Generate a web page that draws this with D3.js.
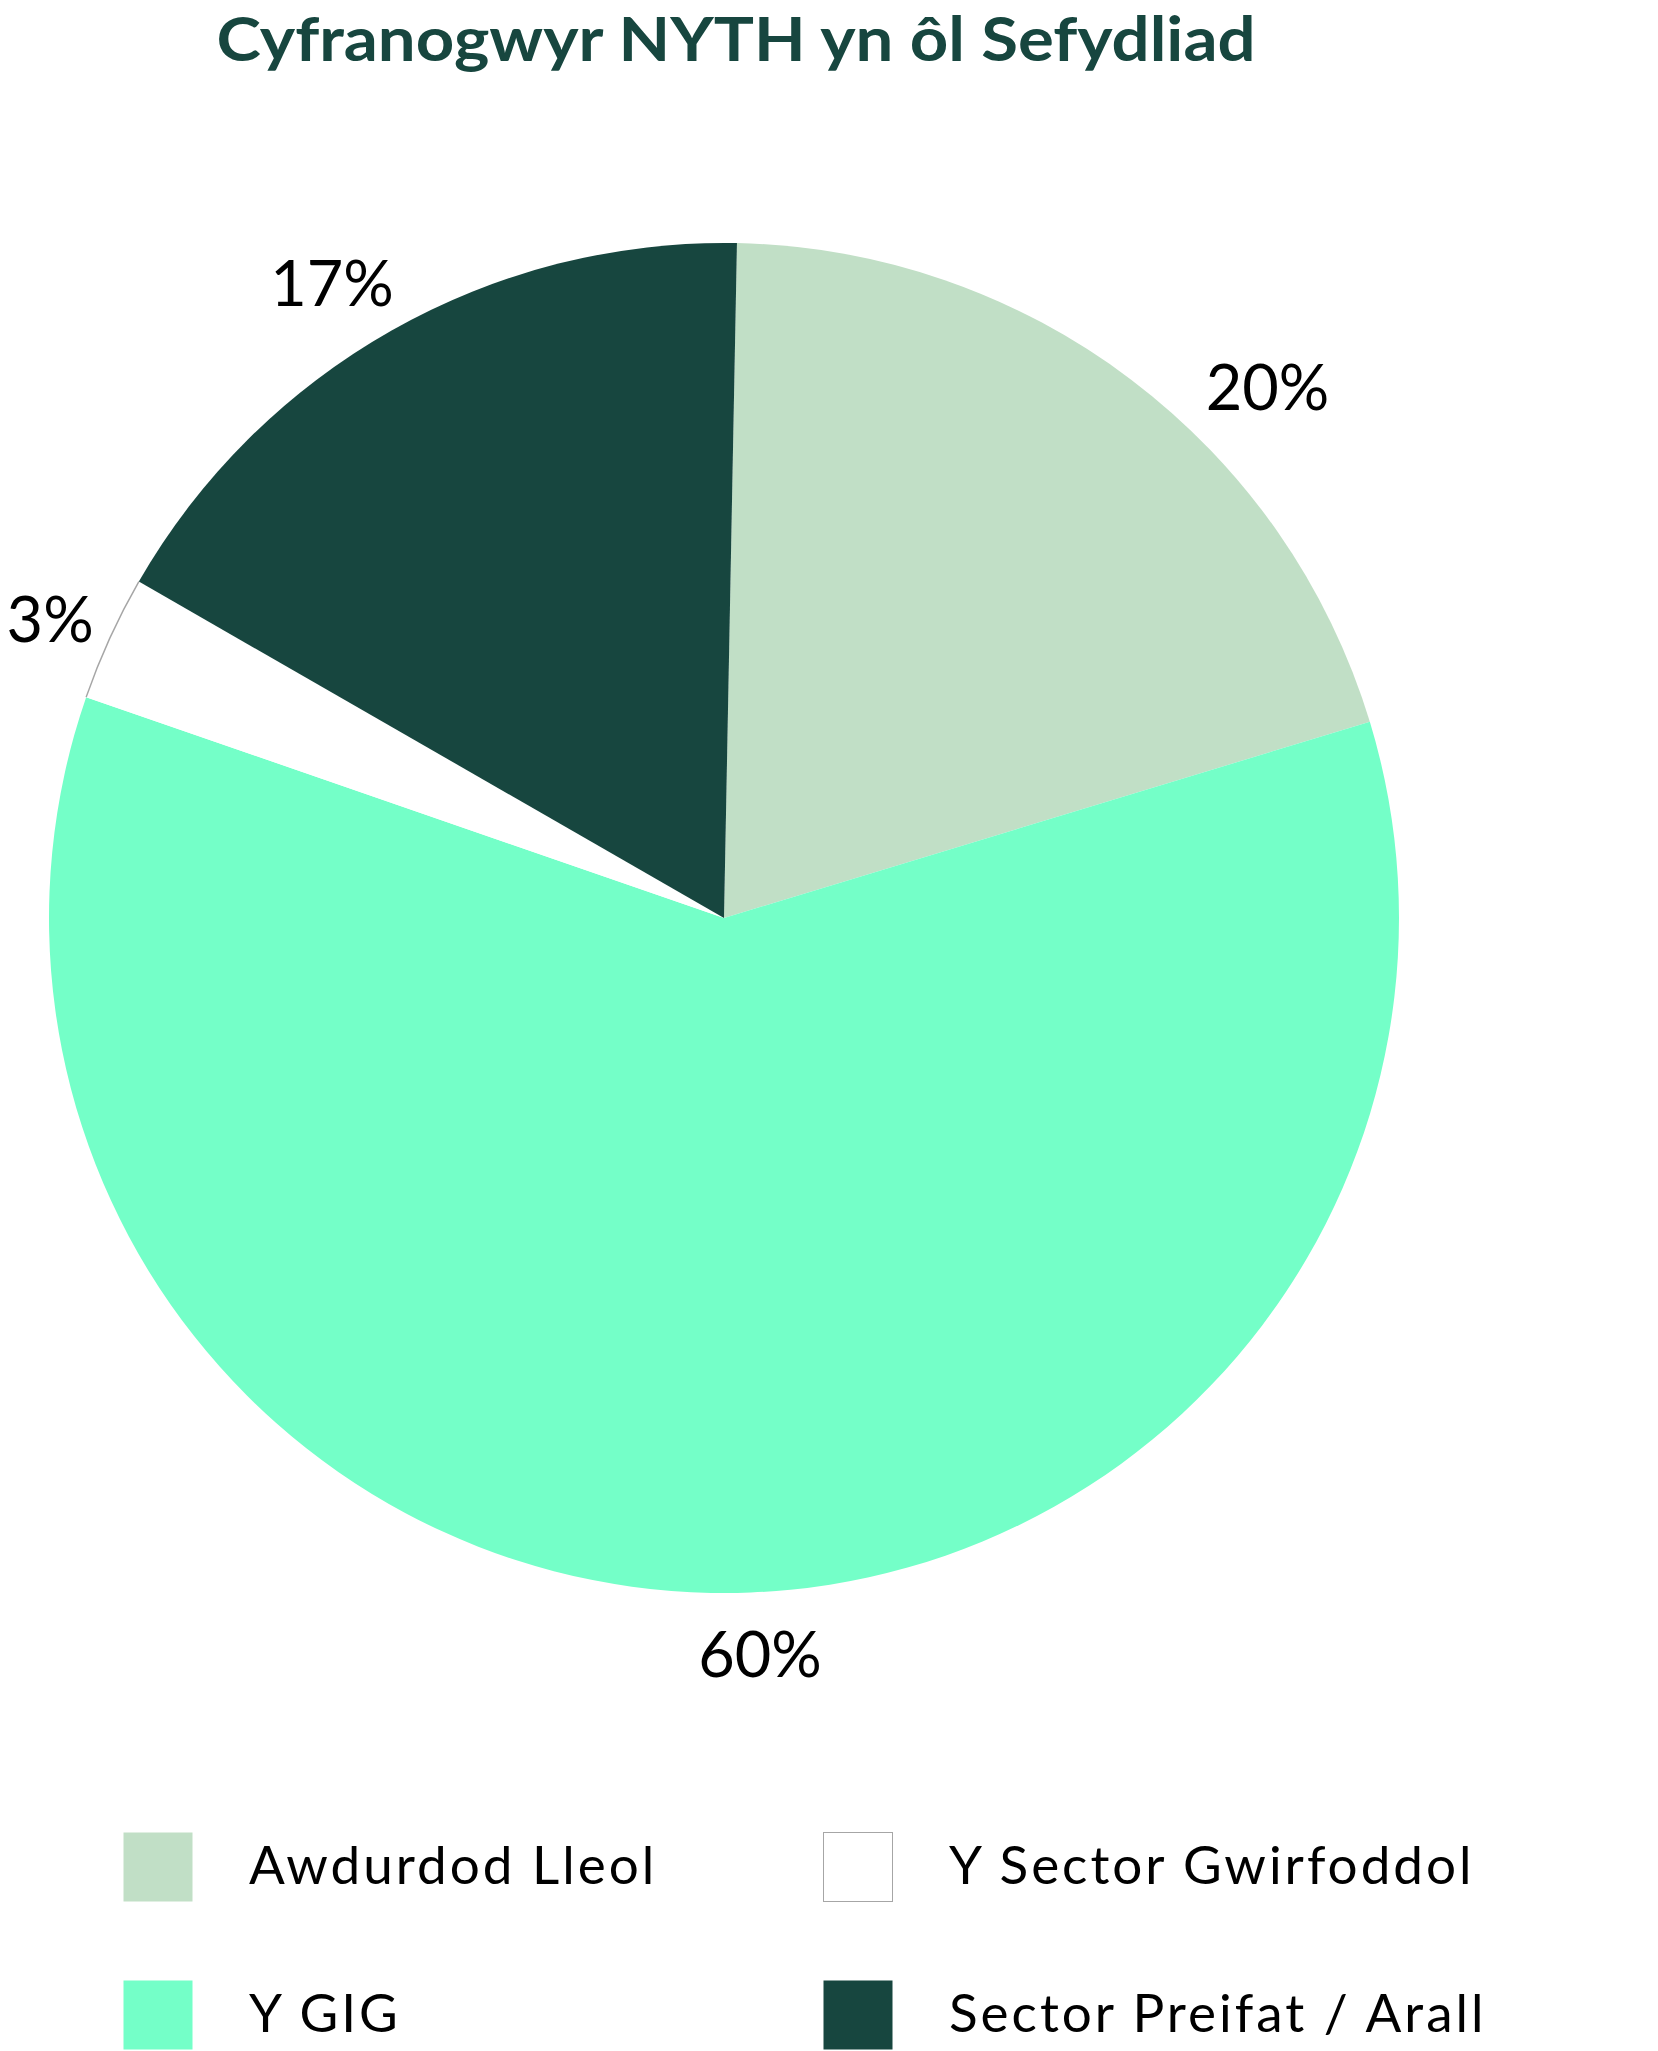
<!DOCTYPE html>
<html>
<head>
<meta charset="utf-8">
<script src="https://cdn.jsdelivr.net/npm/d3@7"></script>
<style>
    body { margin: 0; background: #fff; }
    svg { display: block; }
</style>
</head>
<body>
<div id="chart"></div>
<script>
// data
const categories = ['Awdurdod Lleol', 'Y GIG', 'Y Sector Gwirfoddol', 'Sector Preifat / Arall'];
const values = [20, 60, 3, 17];
const labels = ['20%', '60%', '3%', '17%'];
const colors = ['#c1dfc6', '#74ffc8', '#ffffff', '#17463f'];

const width = 1658,
    height = 2051;

const cx = 724,
    cy = 918,
    radius = 675;

// small nudges (degrees, radius factor) so labels sit where the original put them
const labelShift = [8.6, -3.9, -0.6, -2.2];
const labelRad = [1.125, 1.092, 1.092, 1.105];

const svg = d3.select('#chart').append('svg').attr('width', width).attr('height', height);

svg.append('text')
    .attr('x', 736)
    .attr('y', 61)
    .attr('text-anchor', 'middle')
    .attr('textLength', 1039)
    .attr('lengthAdjust', 'spacingAndGlyphs')
    .attr('fill', '#17463f')
    .style('font-family', 'Lato, "Open Sans", sans-serif')
    .style('font-weight', 'bold')
    .style('font-size', '61px')
    .text('Cyfranogwyr NYTH yn ôl Sefydliad');

const pie = d3
    .pie()
    .sort(null)
    .startAngle((1.1 * Math.PI) / 180)
    .endAngle(2 * Math.PI + (1.1 * Math.PI) / 180);

const arcs = pie(values);

const arc = d3.arc().innerRadius(0).outerRadius(radius);
const rim = d3.arc().innerRadius(radius).outerRadius(radius);

const g = svg.append('g').attr('transform', `translate(${cx},${cy})`);

g.selectAll('path.slice')
    .data(arcs)
    .enter()
    .append('path')
    .attr('class', 'slice')
    .attr('d', arc)
    .attr('fill', (d, i) => colors[i]);

// grey rim on the white slice only
g.selectAll('path.rim')
    .data(arcs.filter((d, i) => colors[i] === '#ffffff'))
    .enter()
    .append('path')
    .attr('class', 'rim')
    .attr('d', rim)
    .attr('fill', 'none')
    .attr('stroke', '#a6a6a6')
    .attr('stroke-width', 1.5);

function labelPos(d, i) {
    const a = (d.startAngle + d.endAngle) / 2 + (labelShift[i] * Math.PI) / 180;
    const r = radius * labelRad[i];
    return [r * Math.sin(a), -r * Math.cos(a)];
}

g.selectAll('text.label')
    .data(arcs)
    .enter()
    .append('text')
    .attr('class', 'label')
    .attr('x', (d, i) => labelPos(d, i)[0])
    .attr('y', (d, i) => labelPos(d, i)[1])
    .attr('dy', '0.36em')
    .attr('text-anchor', 'middle')
    .attr('fill', '#000')
    .style('font-family', 'Lato, "Open Sans", sans-serif')
    .style('font-size', '63px')
    .text((d, i) => labels[i]);

// legend: two columns, filled column by column
const colX = d3.scalePoint().domain([0, 1]).range([123, 823]);
const rowY = d3.scalePoint().domain([0, 1]).range([1832, 1980]);

const legend = svg
    .append('g')
    .attr('class', 'legend')
    .selectAll('g')
    .data(categories)
    .enter()
    .append('g')
    .attr('transform', (d, i) => `translate(${colX(Math.floor(i / 2))},${rowY(i % 2)})`);

legend
    .append('rect')
    .attr('x', 0.5)
    .attr('y', 0.5)
    .attr('width', 69)
    .attr('height', 69)
    .attr('fill', (d, i) => colors[i])
    .attr('stroke', (d, i) => (colors[i] === '#ffffff' ? '#a6a6a6' : 'none'))
    .attr('stroke-width', 1);

legend
    .append('text')
    .attr('x', 126)
    .attr('y', 52)
    .attr('fill', '#000')
    .style('font-family', 'Lato, "Open Sans", sans-serif')
    .style('font-size', '53px')
    .style('letter-spacing', '3px')
    .text((d) => d);
</script>
</body>
</html>
